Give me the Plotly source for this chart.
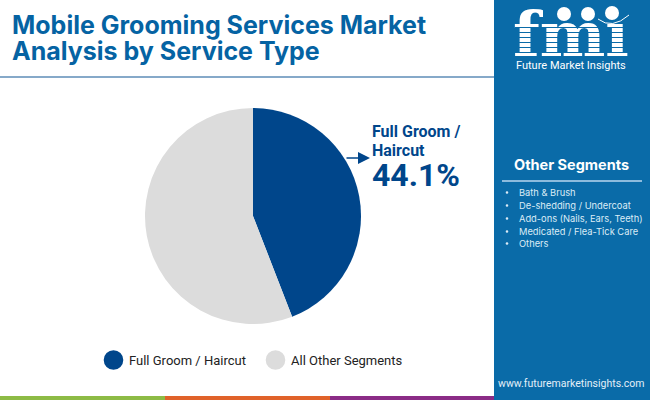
import plotly.graph_objects as go

labels = ["Full Groom / Haircut", "All Other Segments"]
values = [44.1, 55.9]
colors = ["#00468B", "#DCDCDC"]
other_segments = ["Bath & Brush", "De-shedding / Undercoat", "Add-ons (Nails, Ears, Teeth)",
                  "Medicated / Flea-Tick Care", "Others"]
other_y = [192, 205, 218, 231, 243]

W = 650
H = 400
PANEL = "#0A6BA8"
TITLE_BLUE = "#0563A3"
NAVY = "#00468B"


def txt(x, y, s, size, color, family="Roboto", anchor="left", bold=False):
    # pixel positioned text, y is the middle of the line
    return dict(x=x, y=y, xref="x", yref="y", text="<b>" + s + "</b>" if bold else s, showarrow=False,
                xanchor=anchor, yanchor="middle", align=anchor,
                font=dict(size=size, color=color, family=family))


def rect(x0, y0, x1, y1, color, layer="below"):
    return dict(type="rect", x0=x0, y0=y0, x1=x1, y1=y1, xref="x", yref="y",
                fillcolor=color, line_width=0, layer=layer)


def circle(cx, cy, r, color, layer="below"):
    return dict(type="circle", x0=cx - r, y0=cy - r, x1=cx + r, y1=cy + r, xref="x", yref="y",
                fillcolor=color, line_width=0, layer=layer)


fig = go.Figure()

# logo letters go in a trace so the stripes can sit on top of them
fig.add_trace(go.Scatter(x=[571], y=[40], mode="text", text=["<b>fmı</b>"], textposition="middle center",
                         textfont=dict(size=62, color="white", family="DejaVu Serif"),
                         showlegend=False, hoverinfo="skip"))

fig.add_trace(go.Pie(labels=labels, values=values, sort=False, direction="clockwise", rotation=0,
                     marker=dict(colors=colors, line=dict(width=0)), textinfo="none", showlegend=False,
                     domain=dict(x=[145 / W, 361 / W], y=[1 - 324 / H, 1 - 108 / H])))

shapes = [
    rect(0, 76, 494, 78, "#86A9C9"),
    rect(0, 396, 165, 400, "#8DBB45"),
    rect(165, 396, 330, 400, "#E0622A"),
    rect(330, 396, 494, 400, "#8B2C86"),
    rect(494, 0, 650, 400, PANEL),
    rect(502, 180, 642, 182, "#8DBBDD"),
    circle(113.5, 360, 9.8, colors[0]),
    circle(275.5, 360, 9.8, colors[1]),
    dict(type="path", path="M 598 19 Q 612 30 629 15", xref="x", yref="y",
         line=dict(color="white", width=1), layer="above"),
]
for yy in other_y:
    shapes.append(circle(507, yy + 0.5, 1.3, "#DCEBF6"))
for cx, cy in [(564, 14), (588, 14), (612, 13)]:
    shapes.append(circle(cx, cy, 7, "white"))
# stripes across the logo letters
for yy in [27, 32, 37, 42, 47, 52]:
    shapes.append(rect(515, yy, 628, yy + 1, PANEL, layer="above"))

annotations = [
    txt(10, 25, "Mobile Grooming Services Market", 25, TITLE_BLUE, "Inter", bold=True),
    txt(10, 51, "Analysis by Service Type", 25, TITLE_BLUE, "Inter", bold=True),
    txt(370, 131, "Full Groom /", 16, NAVY, bold=True),
    txt(370, 150, "Haircut", 16, NAVY, bold=True),
    txt(370, 175, "44.1%", 32, NAVY, bold=True),
    txt(127, 360, labels[0], 13, "#222222"),
    txt(289, 360, labels[1], 13, "#222222"),
    txt(571, 164, "Other Segments", 14.5, "white", "Inter", anchor="center", bold=True),
    txt(571, 65, "Future Market Insights", 11, "white", "Roboto", anchor="center"),
    txt(571, 383, "www.futuremarketinsights.com", 10.5, "#E3EFF8", "Roboto", anchor="center"),
    dict(x=370, y=158, ax=345, ay=158, xref="x", yref="y", axref="x", ayref="y", text="", showarrow=True,
         arrowhead=2, arrowsize=1.5, arrowwidth=1.6, arrowcolor=NAVY),
]
for s, yy in zip(other_segments, other_y):
    annotations.append(txt(517, yy, s, 9.3, "#DCEBF6", "Inter"))

fig.update_layout(
    width=W, height=H, margin=dict(l=0, r=0, t=0, b=0),
    paper_bgcolor="white", plot_bgcolor="white",
    xaxis=dict(range=[0, W], visible=False, fixedrange=True),
    yaxis=dict(range=[H, 0], visible=False, fixedrange=True),
    shapes=shapes, annotations=annotations, showlegend=False,
)
# page default margin would push the figure 8px off
fig.write_html("out.html", config={"displayModeBar": False},
               post_script="document.body.style.margin='0';")
